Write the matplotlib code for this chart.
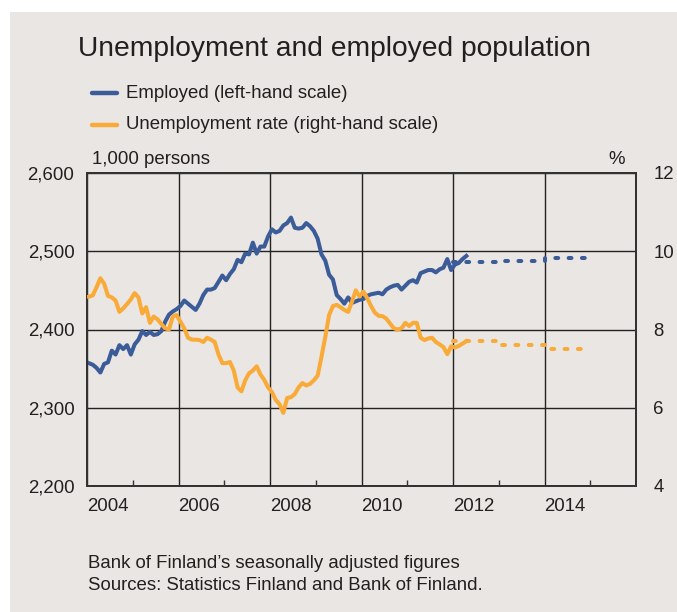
import numpy as np
import matplotlib
matplotlib.use("Agg")
import matplotlib.pyplot as plt
from matplotlib.ticker import FixedLocator, NullFormatter, FuncFormatter

plt.rcParams['font.family'] = ['Liberation Sans', 'DejaVu Sans']

# Monthly data from Jan 2004 to Apr 2012
employed = [2357, 2355, 2351, 2345, 2356, 2358, 2373, 2368, 2380, 2375, 2380, 2368,
            2381, 2387, 2398, 2393, 2397, 2393, 2394, 2398, 2410, 2419, 2423, 2426,
            2430, 2437, 2433, 2429, 2425, 2433, 2444, 2451, 2451, 2453, 2461, 2469,
            2463, 2471, 2477, 2489, 2486, 2497, 2496, 2511, 2497, 2506, 2506, 2519,
            2528, 2524, 2526, 2533, 2536, 2543, 2530, 2529, 2530, 2536, 2532, 2526,
            2516, 2496, 2488, 2470, 2464, 2444, 2439, 2433, 2441, 2434, 2436, 2438,
            2439, 2443, 2445, 2446, 2447, 2445, 2451, 2454, 2456, 2457, 2451, 2456,
            2461, 2463, 2460, 2472, 2474, 2476, 2476, 2473, 2477, 2479, 2490, 2476,
            2483, 2485, 2490, 2494]
unemp_rate = [8.84, 8.87, 9.08, 9.31, 9.17, 8.86, 8.82, 8.74, 8.45, 8.54, 8.65, 8.77,
              8.93, 8.82, 8.41, 8.57, 8.17, 8.33, 8.26, 8.14, 8.03, 8.00, 8.33, 8.37,
              8.20, 8.03, 7.79, 7.74, 7.74, 7.73, 7.68, 7.79, 7.74, 7.68, 7.36, 7.14,
              7.14, 7.17, 6.95, 6.52, 6.42, 6.70, 6.88, 6.95, 7.06, 6.85, 6.71, 6.52,
              6.40, 6.20, 6.09, 5.87, 6.25, 6.27, 6.35, 6.52, 6.63, 6.57, 6.61, 6.70,
              6.82, 7.30, 7.81, 8.37, 8.60, 8.63, 8.57, 8.50, 8.45, 8.71, 9.00, 8.84,
              8.97, 8.80, 8.60, 8.43, 8.35, 8.34, 8.28, 8.15, 8.03, 8.00, 8.03, 8.17,
              8.09, 8.17, 8.17, 7.79, 7.73, 7.77, 7.79, 7.68, 7.62, 7.55, 7.37, 7.57,
              7.54, 7.58, 7.64, 7.70]

# Annual forecasts
fc_years = [2012, 2013, 2014]
fc_employed = [2486.5, 2487, 2491.5]
fc_rate = [7.70, 7.60, 7.50]

year_labels = ['2004', '2006', '2008', '2010', '2012', '2014']

BG = '#e9e6e3'
BLUE = '#3b5c98'
ORANGE = '#f9aa37'
TXT = '#231f20'
FS = 13.4

months = np.arange(len(employed))
x = 2004 + (months + 0.5) / 12
fx = fc_years + [fc_years[-1] + 1]

fig = plt.figure(figsize=(6.77, 6.12), dpi=100)
fig.patch.set_facecolor(BG)
# white margins at the top and left
fig.patches.append(plt.Rectangle((0, 1 - 12 / 612), 1, 12 / 612, transform=fig.transFigure,
                                 facecolor='white', edgecolor='none', zorder=-5))
fig.patches.append(plt.Rectangle((0, 0), 9.5 / 677, 1, transform=fig.transFigure,
                                 facecolor='white', edgecolor='none', zorder=-5))

ax = fig.add_axes([87 / 677, 126 / 612, 549 / 677, 313 / 612])
ax.set_facecolor(BG)
ax2 = ax.twinx()

ax.plot(fx, fc_employed + [fc_employed[-1]], drawstyle='steps-post', color=BLUE, lw=2.9,
        ls=(0, (0.7, 2.6)), dash_capstyle='round', zorder=3)
ax.plot(x, employed, color=BLUE, lw=2.9, solid_joinstyle='round', zorder=4)
ax2.plot(fx, fc_rate + [fc_rate[-1]], drawstyle='steps-post', color=ORANGE, lw=2.9,
         ls=(0, (0.7, 2.6)), dash_capstyle='round', zorder=3)
ax2.plot(x, unemp_rate, color=ORANGE, lw=2.9, solid_joinstyle='round', zorder=4)

ax.set_xlim(2004, 2016)
ax.set_ylim(2200, 2600)
ax2.set_ylim(4, 12)

ax.set_yticks([2200, 2300, 2400, 2500, 2600])
ax.yaxis.set_major_formatter(FuncFormatter(lambda v, p: f'{int(v):,}'))
ax2.set_yticks([4, 6, 8, 10, 12])

ax.xaxis.set_major_locator(FixedLocator(np.arange(2004, 2017, 2)))
ax.xaxis.set_major_formatter(NullFormatter())
ax.xaxis.set_minor_locator(FixedLocator(np.arange(2005, 2016, 2)))
ax.tick_params(axis='x', which='minor', direction='in', length=4.5, width=1, color='#333333')
ax.tick_params(axis='x', which='major', length=0)
ax.tick_params(axis='y', length=0, labelsize=FS, labelcolor=TXT, pad=9)
ax2.tick_params(axis='y', length=0, labelsize=FS, labelcolor=TXT, pad=12.5)

# year labels sit just right of each even-year gridline
for i, lab in enumerate(year_labels):
    ax.text(2004 + 2 * i, -12.2 / 313, lab, ha='left', va='top', fontsize=FS, color=TXT,
            transform=ax.get_xaxis_transform())

ax.grid(True, which='major', color='#222222', lw=1)
ax.set_axisbelow(True)
for a in (ax, ax2):
    for s in a.spines.values():
        s.set_color('#333333')
        s.set_linewidth(1.4)

fig.text(78 / 677, 1 - 49 / 612, 'Unemployment and employed population', fontsize=20.3,
         color=TXT, va='center', ha='left')

fig.lines.append(plt.Line2D([92 / 677, 117 / 677], [1 - 93 / 612] * 2, color=BLUE, lw=3.2,
                            transform=fig.transFigure, solid_capstyle='round'))
fig.text(126 / 677, 1 - 93 / 612, 'Employed (left-hand scale)', fontsize=FS, color=TXT,
         va='center', ha='left')
fig.lines.append(plt.Line2D([92 / 677, 117 / 677], [1 - 125 / 612] * 2, color=ORANGE, lw=3.2,
                            transform=fig.transFigure, solid_capstyle='round'))
fig.text(126 / 677, 1 - 125 / 612, 'Unemployment rate (right-hand scale)', fontsize=FS,
         color=TXT, va='center', ha='left')

fig.text(92 / 677, 1 - 160 / 612, '1,000 persons', fontsize=FS, color=TXT, va='center', ha='left')
fig.text(625 / 677, 1 - 160 / 612, '%', fontsize=FS, color=TXT, va='center', ha='right')

fig.text(88 / 677, 1 - 563 / 612, 'Bank of Finland\u2019s seasonally adjusted figures', fontsize=FS,
         color=TXT, va='center', ha='left')
fig.text(88 / 677, 1 - 586 / 612, 'Sources: Statistics Finland and Bank of Finland.', fontsize=FS,
         color=TXT, va='center', ha='left')

fig.savefig('out.png', dpi=100, facecolor=fig.get_facecolor())
